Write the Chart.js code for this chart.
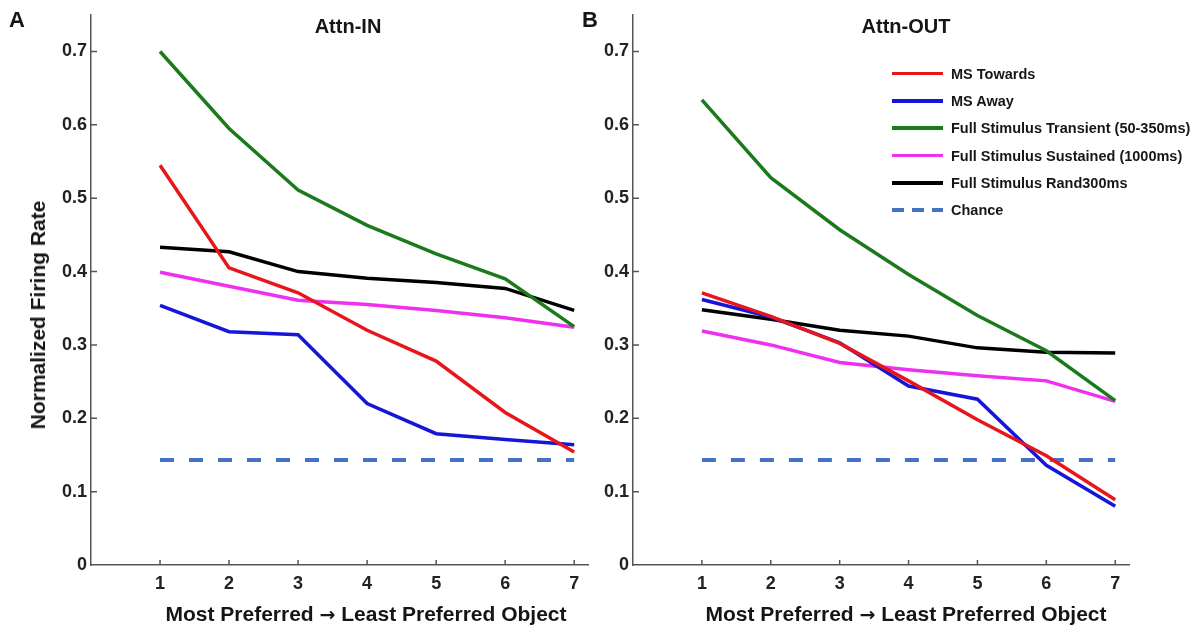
<!DOCTYPE html>
<html lang="en">
<head>
  <meta charset="UTF-8" />
  <title>Normalized Firing Rate - Attn-IN / Attn-OUT</title>
  <script src="https://cdn.jsdelivr.net/npm/chart.js"></script>
  <style>
    body {
      margin: 0;
      background: #ffffff;
      font-family: "Liberation Sans", Arial, sans-serif;
    }
    #wrap {
      position: relative;
      width: 1201px;
      height: 626px;
      overflow: hidden;
    }
    .panel {
      position: absolute;
      top: 0;
    }
    /* overlay labels, centred on their anchor point */
    .lbl {
      position: absolute;
      font-weight: bold;
      color: #151515;
      white-space: nowrap;
      transform: translate(-50%, -50%);
    }
    .ytitle {
      transform: translate(-50%, -50%) rotate(-90deg);
    }
    .arrow {
      font-family: "DejaVu Sans", sans-serif;
      font-size: 19px;
    }
    #legend {
      position: absolute;
      left: 892px;
      top: 60px;
    }
    .row {
      display: flex;
      align-items: center;
      height: 27.3px;
    }
    .swatch {
      width: 51px;
      height: 3.5px;
      margin-right: 8px;
    }
    .row span {
      font-size: 14.5px;
      font-weight: bold;
      color: #161616;
    }
  </style>
</head>
<body>
  <div id="wrap">
    <canvas id="chartIn" class="panel" style="left:0px" width="600" height="626"></canvas>
    <canvas id="chartOut" class="panel" style="left:600px" width="601" height="626"></canvas>

    <div class="lbl" style="left:17px; top:20px; font-size:22px;">A</div>
    <div class="lbl" style="left:590px; top:20px; font-size:22px;">B</div>
    <div class="lbl" style="left:348px; top:26px; font-size:20px;">Attn-IN</div>
    <div class="lbl" style="left:906px; top:26px; font-size:20px;">Attn-OUT</div>
    <div class="lbl ytitle" style="left:38px; top:315px; font-size:21px;">Normalized Firing Rate</div>
    <div class="lbl" style="left:366px; top:614px; font-size:21px;">Most Preferred <span class="arrow">&rarr;</span> Least Preferred Object</div>
    <div class="lbl" style="left:906px; top:614px; font-size:21px;">Most Preferred <span class="arrow">&rarr;</span> Least Preferred Object</div>

    <div id="legend"></div>
  </div>

  <script>
    // x categories (object rank) and axis ticks
    const ranks = [1, 2, 3, 4, 5, 6, 7];
    const xTicks = [1, 2, 3, 4, 5, 6, 7];
    const yTicks = [0, 0.1, 0.2, 0.3, 0.4, 0.5, 0.6, 0.7];

    const seriesNames = [
      'MS Towards',
      'MS Away',
      'Full Stimulus Transient (50-350ms)',
      'Full Stimulus Sustained (1000ms)',
      'Full Stimulus Rand300ms',
      'Chance'
    ];
    const seriesColors = ['#e8161b', '#1616d8', '#1b7a1b', '#f030f0', '#000000', '#4472c4'];

    // Attn-IN panel (A)
    const inTowards   = [0.545, 0.405, 0.371, 0.320, 0.278, 0.208, 0.154];
    const inAway      = [0.354, 0.318, 0.314, 0.220, 0.179, 0.171, 0.164];
    const inTransient = [0.700, 0.595, 0.511, 0.463, 0.424, 0.390, 0.325];
    const inSustained = [0.399, 0.380, 0.361, 0.355, 0.347, 0.337, 0.324];
    const inRand      = [0.433, 0.427, 0.400, 0.391, 0.385, 0.377, 0.347];
    const inChance    = [0.143, 0.143, 0.143, 0.143, 0.143, 0.143, 0.143];

    // Attn-OUT panel (B)
    const outTowards   = [0.371, 0.339, 0.302, 0.251, 0.198, 0.149, 0.089];
    const outAway      = [0.362, 0.338, 0.303, 0.244, 0.226, 0.136, 0.080];
    const outTransient = [0.634, 0.528, 0.457, 0.396, 0.340, 0.292, 0.224];
    const outSustained = [0.319, 0.300, 0.276, 0.266, 0.258, 0.251, 0.223];
    const outRand      = [0.348, 0.335, 0.320, 0.312, 0.296, 0.290, 0.289];
    const outChance    = [0.143, 0.143, 0.143, 0.143, 0.143, 0.143, 0.143];

    const axisColor = '#555555';
    const tickFont = { family: '"Liberation Sans", Arial, sans-serif', size: 18, weight: 'bold' };

    // small tick marks pointing into the plot, like the original figure
    const innerTicks = {
      id: 'innerTicks',
      afterDraw(chart) {
        const { ctx, chartArea, scales } = chart;
        ctx.save();
        ctx.strokeStyle = axisColor;
        ctx.lineWidth = 1.5;
        ctx.beginPath();
        scales.x.ticks.forEach(t => {
          const px = scales.x.getPixelForValue(t.value);
          ctx.moveTo(px, chartArea.bottom);
          ctx.lineTo(px, chartArea.bottom - 5);
        });
        scales.y.ticks.forEach(t => {
          if (t.value === 0) return;
          const py = scales.y.getPixelForValue(t.value);
          ctx.moveTo(chartArea.left, py);
          ctx.lineTo(chartArea.left + 6, py);
        });
        ctx.stroke();
        ctx.restore();
      }
    };

    function buildDatasets(seriesList) {
      return seriesList.map((vals, i) => {
        const isChance = i === seriesList.length - 1;
        return {
          label: seriesNames[i],
          data: vals.map((v, j) => ({ x: ranks[j], y: v })),
          borderColor: seriesColors[i],
          backgroundColor: seriesColors[i],
          borderWidth: isChance ? 4 : 3.5,
          borderDash: isChance ? [14, 15] : [],
          pointRadius: 0,
          tension: 0,
          fill: false
        };
      });
    }

    function makePanel(id, seriesList, yWidth, padRight) {
      const ctx = document.getElementById(id).getContext('2d');
      return new Chart(ctx, {
        type: 'line',
        data: { datasets: buildDatasets(seriesList) },
        plugins: [innerTicks],
        options: {
          responsive: false,
          animation: false,
          layout: { padding: { left: 0, right: padRight, top: 12, bottom: 0 } },
          plugins: {
            legend: { display: false },
            tooltip: { enabled: false }
          },
          scales: {
            x: {
              type: 'linear',
              min: 0,
              max: 7.2,
              afterBuildTicks: s => { s.ticks = xTicks.map(v => ({ value: v })); },
              afterFit: s => { s.height = 61; },
              grid: { display: true, drawOnChartArea: false, drawTicks: false },
              border: { display: true, color: axisColor, width: 1.5 },
              ticks: { color: '#222', font: tickFont, padding: 8, maxRotation: 0 }
            },
            y: {
              min: 0,
              max: 0.75,
              afterBuildTicks: s => { s.ticks = yTicks.map(v => ({ value: v })); },
              afterFit: s => { s.width = yWidth; },
              grid: { display: true, drawOnChartArea: false, drawTicks: false },
              border: { display: true, color: axisColor, width: 1.5 },
              ticks: {
                color: '#222',
                font: tickFont,
                padding: 4,
                callback: v => (v === 0 ? '0' : v.toFixed(1))
              }
            }
          }
        }
      });
    }

    makePanel('chartIn',
      [inTowards, inAway, inTransient, inSustained, inRand, inChance], 91, 12);
    makePanel('chartOut',
      [outTowards, outAway, outTransient, outSustained, outRand, outChance], 33, 72);

    // legend inside panel B, built from the series names and colours
    const legend = document.getElementById('legend');
    seriesNames.forEach((name, i) => {
      const row = document.createElement('div');
      row.className = 'row';
      const sw = document.createElement('div');
      sw.className = 'swatch';
      if (name === 'Chance') {
        sw.style.height = '4px';
        sw.style.background = 'repeating-linear-gradient(to right, ' + seriesColors[i] +
          ' 0 12px, transparent 12px 20px)';
      } else {
        sw.style.background = seriesColors[i];
      }
      const txt = document.createElement('span');
      txt.textContent = name;
      row.appendChild(sw);
      row.appendChild(txt);
      legend.appendChild(row);
    });
  </script>
</body>
</html>
